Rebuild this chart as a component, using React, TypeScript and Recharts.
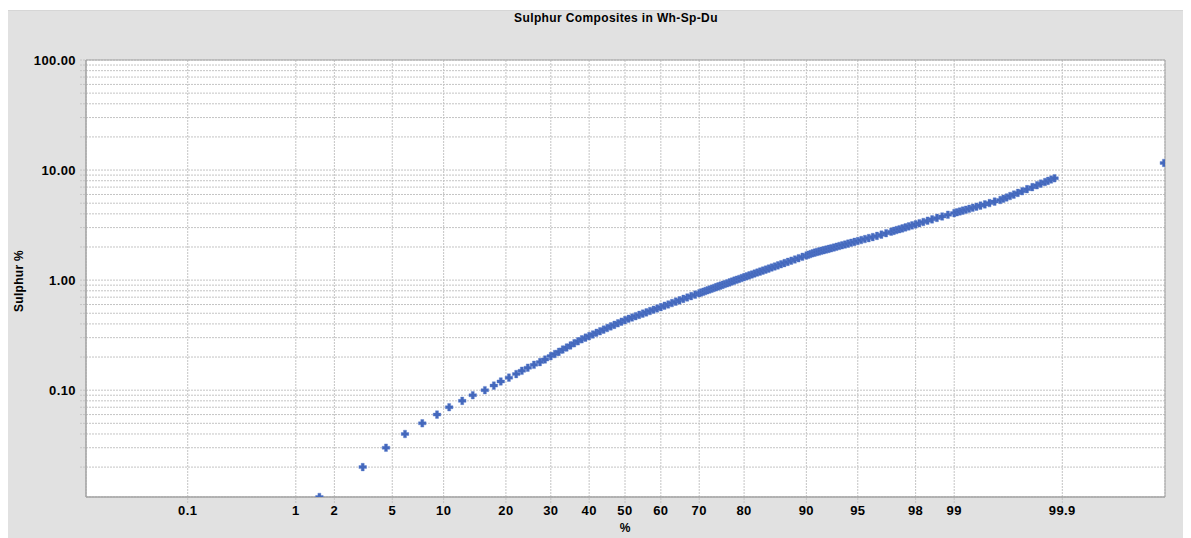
import React from "react";
import {
  ScatterChart,
  Scatter,
  XAxis,
  YAxis,
  CartesianGrid,
  ReferenceArea,
} from "recharts";

// ---- data: cumulative probability % and sulphur % ----
const cumPct = [
  1.54, 3.19, 4.56, 6.0, 7.6, 9.2, 10.7, 12.5, 14.1, 16.1, 17.7, 19.0, 20.6, 22.1, 23.3, 24.6, 26.0, 27.4, 28.6,
  30, 31, 32, 33, 34, 35, 36, 37, 38, 39, 40, 41, 42, 43, 44, 45, 46, 47, 48, 49, 50,
  51, 52, 53, 54, 55, 56, 57, 58, 59, 60, 61, 62, 63, 64, 65, 66, 67, 68, 69, 70,
  70.5, 71, 71.5, 72, 72.5, 73, 73.5, 74, 74.5, 75, 75.5, 76, 76.5, 77, 77.5, 78, 78.5, 79, 79.5, 80,
  80.5, 81, 81.5, 82, 82.5, 83, 83.5, 84, 84.5, 85, 85.5, 86, 86.5, 87, 87.5, 88, 88.5, 89, 89.5, 90,
  90.25, 90.5, 90.75, 91, 91.25, 91.5, 91.75, 92, 92.25, 92.5, 92.75, 93, 93.25, 93.5, 93.75, 94,
  94.25, 94.5, 94.75, 95, 95.25, 95.5, 95.75, 96, 96.25, 96.5, 96.75, 97, 97.125, 97.25, 97.375, 97.5,
  97.625, 97.75, 97.875, 98, 98.125, 98.25, 98.375, 98.5, 98.625, 98.75, 98.875, 99,
  99.05, 99.1, 99.15, 99.2, 99.25, 99.3, 99.35, 99.4, 99.45, 99.5, 99.55, 99.6, 99.625, 99.65, 99.675,
  99.7, 99.725, 99.75, 99.775, 99.8, 99.82, 99.835, 99.85, 99.86, 99.87, 99.88,
  99.993,
];
const sulphur = [
  0.0107, 0.02, 0.03, 0.04, 0.05, 0.06, 0.07, 0.08, 0.09, 0.1, 0.11, 0.12, 0.13, 0.14, 0.15, 0.16, 0.17, 0.18, 0.19,
  0.204, 0.213, 0.223, 0.234, 0.244, 0.255, 0.267, 0.278, 0.29, 0.3, 0.31, 0.321, 0.332, 0.343, 0.355, 0.367, 0.38, 0.392, 0.405, 0.419, 0.433,
  0.445, 0.457, 0.47, 0.483, 0.496, 0.509, 0.524, 0.538, 0.553, 0.568, 0.585, 0.601, 0.619, 0.637, 0.655, 0.675, 0.695, 0.716, 0.738, 0.76,
  0.772, 0.784, 0.796, 0.809, 0.822, 0.835, 0.849, 0.863, 0.877, 0.891, 0.906, 0.922, 0.937, 0.953, 0.971, 0.989, 1.007, 1.025, 1.044, 1.064,
  1.084, 1.105, 1.126, 1.148, 1.171, 1.195, 1.22, 1.245, 1.273, 1.301, 1.331, 1.361, 1.394, 1.428, 1.464, 1.501, 1.541, 1.582, 1.628, 1.675,
  1.7, 1.726, 1.752, 1.778, 1.801, 1.824, 1.847, 1.871, 1.896, 1.922, 1.949, 1.977, 2.009, 2.042, 2.075, 2.108,
  2.145, 2.183, 2.224, 2.265, 2.312, 2.36, 2.409, 2.46, 2.523, 2.588, 2.67, 2.754, 2.802, 2.851, 2.901, 2.951,
  3.013, 3.076, 3.142, 3.209, 3.29, 3.373, 3.468, 3.565, 3.674, 3.786, 3.922, 4.064,
  4.135, 4.207, 4.281, 4.356, 4.446, 4.539, 4.645, 4.753, 4.875, 5.012, 5.171, 5.346, 5.489, 5.636, 5.807,
  5.984, 6.201, 6.427, 6.704, 6.993, 7.278, 7.527, 7.782, 7.98, 8.197, 8.42,
  11.6,
];

const xTickPct = [0.1, 1, 2, 5, 10, 20, 30, 40, 50, 60, 70, 80, 90, 95, 98, 99, 99.9];
const xTickLabels = ["0.1", "1", "2", "5", "10", "20", "30", "40", "50", "60", "70", "80", "90", "95", "98", "99", "99.9"];
const yTicks = [
  0.02, 0.03, 0.04, 0.05, 0.06, 0.07, 0.08, 0.09,
  0.1, 0.2, 0.3, 0.4, 0.5, 0.6, 0.7, 0.8, 0.9,
  1, 2, 3, 4, 5, 6, 7, 8, 9,
  10, 20, 30, 40, 50, 60, 70, 80, 90, 100,
];
const yLabelTicks = [0.1, 1, 10, 100];

const TITLE = "Sulphur Composites in Wh-Sp-Du";
const Y_LABEL = "Sulphur %";
const X_LABEL = "%";

// ---- normal probability transform (inverse normal CDF, Acklam) ----
function invNorm(p: number): number {
  const a = [-3.969683028665376e1, 2.209460984245205e2, -2.759285104469687e2, 1.38357751867269e2, -3.066479806614716e1, 2.506628277459239];
  const b = [-5.447609879822406e1, 1.615858368580409e2, -1.556989798598866e2, 6.680131188771972e1, -1.328068155288572e1];
  const c = [-7.784894002430293e-3, -3.223964580411365e-1, -2.400758277161838, -2.549732539343734, 4.374664141464968, 2.938163982698783];
  const d = [7.784695709041462e-3, 3.224671290700398e-1, 2.445134137142996, 3.754408661907416];
  const plow = 0.02425;
  if (p < plow) {
    const q = Math.sqrt(-2 * Math.log(p));
    return (((((c[0] * q + c[1]) * q + c[2]) * q + c[3]) * q + c[4]) * q + c[5]) /
      ((((d[0] * q + d[1]) * q + d[2]) * q + d[3]) * q + 1);
  }
  if (p <= 1 - plow) {
    const q = p - 0.5;
    const r = q * q;
    return ((((((a[0] * r + a[1]) * r + a[2]) * r + a[3]) * r + a[4]) * r + a[5]) * q) /
      (((((b[0] * r + b[1]) * r + b[2]) * r + b[3]) * r + b[4]) * r + 1);
  }
  const q = Math.sqrt(-2 * Math.log(1 - p));
  return -(((((c[0] * q + c[1]) * q + c[2]) * q + c[3]) * q + c[4]) * q + c[5]) /
    ((((d[0] * q + d[1]) * q + d[2]) * q + d[3]) * q + 1);
}

const data = cumPct.map((p, i) => ({ z: invNorm(p / 100), s: sulphur[i] }));
const xTicks = xTickPct.map((p) => invNorm(p / 100));
const X_MIN = -3.809;
const X_MAX = 3.816;
const Y_MIN = 0.0107;
const Y_MAX = 100;

const FONT = "'Liberation Sans', Arial, sans-serif";
const MARK = "#4468bc";
const GRID = "#c4c4c4";
const TICK_STYLE = {
  fill: "#000",
  fontSize: 13,
  fontWeight: "bold",
  fontFamily: FONT,
  letterSpacing: 0.4,
};

const PlusShape = (props: any) => {
  const { cx, cy } = props;
  if (cx == null || cy == null) return null;
  const a = 3.8;
  const t = 1.5;
  const d = `M${cx - t},${cy - a}H${cx + t}V${cy - t}H${cx + a}V${cy + t}H${cx + t}V${cy + a}H${cx - t}V${cy + t}H${cx - a}V${cy - t}H${cx - t}Z`;
  return <path d={d} fill={MARK} stroke="#5b7fcf" strokeWidth={0.4} />;
};

export default function App() {
  return (
    <div
      style={{
        position: "relative",
        width: 1183,
        height: 528,
        marginTop: 2,
        background: "#e1e1e1",
        borderTop: "1px solid #d6d6d6",
        boxSizing: "border-box",
        fontFamily: FONT,
      }}
    >
      <div
        style={{
          position: "absolute",
          left: 0,
          width: 1216,
          top: 0,
          textAlign: "center",
          fontSize: 12,
          fontWeight: "bold",
          lineHeight: "14px",
          letterSpacing: 0.37,
          color: "#000",
        }}
      >
        {TITLE}
      </div>
      <div
        style={{
          position: "absolute",
          left: 11,
          top: 270,
          transform: "translate(-50%, -50%) rotate(-90deg)",
          fontSize: 12,
          fontWeight: "bold",
          letterSpacing: 0.3,
          whiteSpace: "nowrap",
          color: "#000",
        }}
      >
        {Y_LABEL}
      </div>
      <div
        style={{
          position: "absolute",
          left: 617,
          top: 517,
          transform: "translate(-50%, -50%)",
          fontSize: 12,
          fontWeight: "bold",
          color: "#000",
        }}
      >
        {X_LABEL}
      </div>
      <div style={{ position: "absolute", left: 0, top: -1 }}>
        <ScatterChart
          width={1183}
          height={528}
          margin={{ top: 50, right: 26, left: 0, bottom: 0 }}
        >
          <CartesianGrid fill="#ffffff" stroke={GRID} strokeDasharray="2 1" />
          <XAxis
            type="number"
            dataKey="z"
            domain={[X_MIN, X_MAX]}
            allowDataOverflow
            ticks={xTicks}
            interval={0}
            height={41}
            tickFormatter={(v: number) => {
              const i = xTicks.findIndex((t) => Math.abs(t - v) < 1e-9);
              return i >= 0 ? xTickLabels[i] : "";
            }}
            tick={TICK_STYLE}
            tickSize={6}
            tickMargin={3}
            tickLine={{ stroke: GRID, strokeDasharray: "2 1" }}
            axisLine={{ stroke: "#a3a3a3" }}
          />
          <YAxis
            type="number"
            dataKey="s"
            scale="log"
            domain={[Y_MIN, Y_MAX]}
            allowDataOverflow
            ticks={yTicks}
            interval={0}
            width={78}
            tickFormatter={(v: number) =>
              yLabelTicks.some((t) => Math.abs(t - v) < 1e-9) ? v.toFixed(2) : ""
            }
            tick={TICK_STYLE}
            tickSize={6}
            tickMargin={4}
            tickLine={{ stroke: GRID, strokeDasharray: "2 1" }}
            axisLine={{ stroke: "#a3a3a3" }}
          />
          <ReferenceArea
            x1={X_MIN}
            x2={X_MAX}
            y1={Y_MIN}
            y2={Y_MAX}
            fill="none"
            fillOpacity={0}
            stroke="#a3a3a3"
            strokeWidth={1}
            ifOverflow="visible"
          />
          <Scatter data={data} shape={PlusShape} isAnimationActive={false} />
        </ScatterChart>
      </div>
    </div>
  );
}
